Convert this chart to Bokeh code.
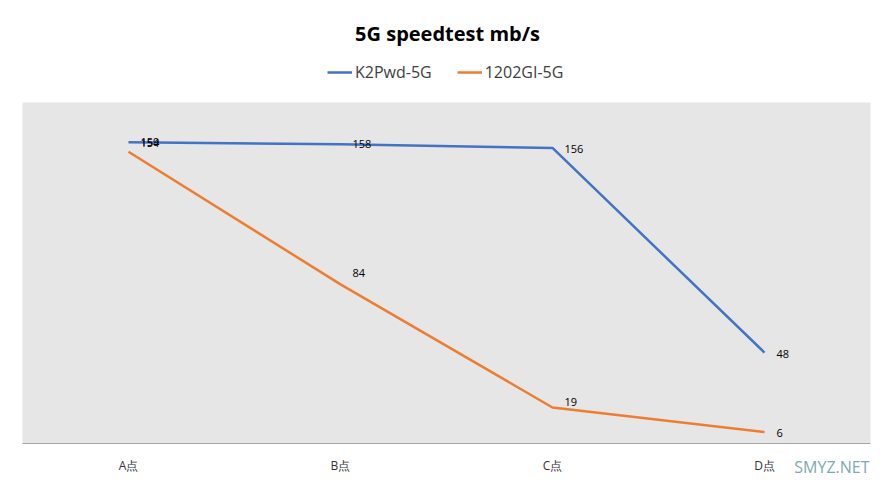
from bokeh.plotting import figure
from bokeh.models import Range1d, Legend, LegendItem, ColumnDataSource, Label, BoxAnnotation
from bokeh.core.properties import value
from bokeh.embed import file_html
from bokeh.resources import INLINE

categories = ["A点", "B点", "C点", "D点"]
k2pwd = [159, 158, 156, 48]
gi1202 = [154, 84, 19, 6]
title_text = "5G speedtest mb/s"
series_names = ["K2Pwd-5G", "1202GI-5G"]
watermark = "SMYZ.NET"
y_max = 180

BLUE = "#4472C4"
ORANGE = "#ED7D31"
FONT = "Open Sans"

W, H = 879, 479
# plot area (pixels from top-left)
PL, PR, PT, PB = 22, 870, 102, 443
n = len(categories)
sx = (PR - PL) / n
sy = (PB - PT) / y_max
x_lo = -0.5 - PL / sx
x_hi = -0.5 + (W - PL) / sx
y_lo = -(H - PB) / sy
y_hi = y_max + PT / sy

p = figure(width=W, height=H, x_range=Range1d(x_lo, x_hi), y_range=Range1d(y_lo, y_hi),
           output_backend="svg", toolbar_location=None,
           x_axis_type=None, y_axis_type=None,
           min_border=0, min_border_left=0, min_border_right=0, min_border_top=0, min_border_bottom=0)
p.background_fill_color = "white"
p.border_fill_color = "white"
p.outline_line_color = None
p.grid.visible = False

xs = list(range(n))

# plot area background
p.add_layout(BoxAnnotation(left=-0.5, right=n - 0.5, bottom=0, top=y_max,
                           fill_color="#E6E6E6", fill_alpha=1.0, line_color=None, level="underlay"))
# category axis line
p.segment(x0=[-0.5], y0=[0], x1=[n - 0.5], y1=[0], line_color="#A6A6A6", line_width=1)
# category labels
p.text(x=xs, y=[0] * n, text=categories, y_offset=22, text_font=value(FONT), text_font_size="12px",
       text_color="#333333", text_align="center", text_baseline="middle")

src1 = ColumnDataSource(dict(x=xs, y=k2pwd, t=[str(v) for v in k2pwd], dy=[0, 0, 1, 1]))
src2 = ColumnDataSource(dict(x=xs, y=gi1202, t=[str(v) for v in gi1202], dy=[-9, -11, -6, 1]))

r1 = p.line("x", "y", source=src1, line_color=BLUE, line_width=2.5)
r2 = p.line("x", "y", source=src2, line_color=ORANGE, line_width=2.5)

for src in (src2, src1):
    p.text("x", "y", text="t", source=src, x_offset=12, y_offset="dy",
           text_font=value(FONT), text_font_size="11px", text_color="black",
           text_baseline="middle", text_align="left")

legend = Legend(items=[LegendItem(label=series_names[0], renderers=[r1]),
                       LegendItem(label=series_names[1], renderers=[r2])],
                location=(327, H - 83), orientation="horizontal",
                glyph_width=25, glyph_height=20, label_standoff=3, spacing=25,
                padding=0, margin=0, border_line_color=None, background_fill_alpha=0,
                label_text_font=FONT, label_text_font_size="16px", label_text_color="#404040",
                label_height=20)
p.add_layout(legend, "center")

p.add_layout(Label(x=447, y=H - 33, x_units="screen", y_units="screen", text=title_text,
                   text_font=FONT, text_font_size="20px", text_font_style="bold",
                   text_align="center", text_baseline="middle", text_color="black"))

p.add_layout(Label(x=W - 10, y=H - 466, x_units="screen", y_units="screen", text=watermark,
                   text_font=FONT, text_font_size="16px", text_align="right", text_baseline="middle",
                   text_color="#7FA9B0"))

open("out.html", "w").write(file_html(p, INLINE))
